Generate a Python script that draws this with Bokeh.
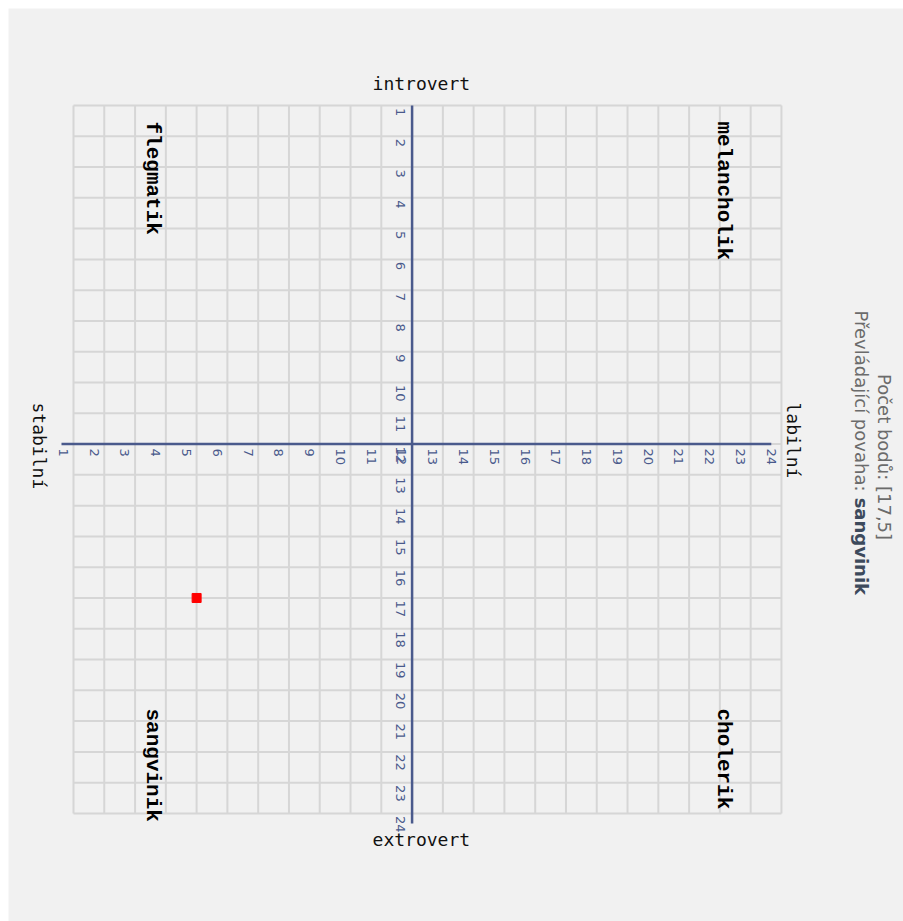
import math
from bokeh.plotting import figure
from bokeh.models import Range1d
from bokeh.core.properties import value
from bokeh.embed import file_html
from bokeh.resources import INLINE

# ---- data ----
ticks = list(range(1, 25))
tick_labels = [str(t) for t in ticks]
x_axis_titles = ["stabilní", "labilní"]
y_axis_titles = ["introvert", "extrovert"]
quadrant_names = ["flegmatik", "melancholik", "sangvinik", "cholerik"]
score = [17, 5]            # [row (introvert→extrovert), column (stabilní→labilní)]
dominant = "sangvinik"

# ---- layout constants (data units = grid cells) ----
W, H = 903, 921
M = 8                      # white margin left / top
S = 30.78                  # px per grid unit
x0 = 1 - 65 / S
y0 = 1 - 97 / S
BG = "#f1f1f1"
GRID = "#d6d6d6"
AXIS = "#4a5a8c"

p = figure(width=W, height=H,
           x_range=Range1d(x0, x0 + (W - M) / S),
           y_range=Range1d(y0 + (H - M) / S, y0),
           output_backend="svg", toolbar_location=None,
           min_border=0, min_border_left=M, min_border_top=M,
           background_fill_color=BG, border_fill_color="white",
           outline_line_color=None)
p.axis.visible = False
p.grid.visible = False

lo, hi = ticks[0], ticks[-1]
# grid
p.segment(x0=ticks, y0=[lo] * len(ticks), x1=ticks, y1=[hi] * len(ticks),
          line_color=GRID, line_width=2)
p.segment(x0=[lo] * len(ticks), y0=ticks, x1=[hi] * len(ticks), y1=ticks,
          line_color=GRID, line_width=2)

mid = ticks[11]
xoff = -0.33
# axes
p.segment(x0=[lo - 0.39], y0=[mid], x1=[hi + xoff], y1=[mid], line_color=AXIS, line_width=2.5)
p.segment(x0=[mid], y0=[lo], x1=[mid], y1=[hi + 0.33], line_color=AXIS, line_width=2.5)

rot = -math.pi / 2
# tick labels horizontal axis
p.text(x=[t + xoff for t in ticks], y=[mid + 0.14] * len(ticks), text=tick_labels,
       angle=rot, text_align="left", text_baseline="middle",
       text_font=value("DejaVu Sans"), text_font_size="13px", text_color=AXIS)
# tick labels vertical axis
p.text(x=[mid - 0.39] * len(ticks), y=[t + 0.08 for t in ticks], text=tick_labels,
       angle=rot, text_align="left", text_baseline="middle",
       text_font=value("DejaVu Sans"), text_font_size="13px", text_color=AXIS)

# axis titles
p.text(x=[mid + 0.3, mid + 0.3], y=[lo - 0.72, hi + 0.85], text=y_axis_titles,
       text_align="center", text_baseline="middle",
       text_font=value("DejaVu Sans Mono"), text_font_size="18px", text_color="#111111")
p.text(x=[lo - 1.12, hi + 0.39], y=[mid - 1.35, mid - 1.35], text=x_axis_titles,
       angle=rot, text_align="left", text_baseline="middle",
       text_font=value("DejaVu Sans Mono"), text_font_size="18px", text_color="#111111")

# quadrant names
p.text(x=[3.57, 22.12, 3.57, 22.12], y=[1.52, 1.52, 20.59, 20.59], text=quadrant_names,
       angle=rot, text_align="left", text_baseline="middle",
       text_font=value("Liberation Mono"), text_font_size="21px", text_font_style="bold",
       text_color="#000000")

# point
p.scatter(x=[score[1]], y=[score[0]], marker="square", size=9,
          fill_color="#ff0000", line_color="#ff0000")

# side info
p.text(x=[27.35], y=[12.42], text=["Počet bodů: [%d,%d]" % (score[0], score[1])],
       angle=rot, text_align="center", text_baseline="middle",
       text_font=value("DejaVu Sans"), text_font_size="18px", text_color="#6b6b6b")
p.text(x=[26.6], y=[7.66], text=["Převládající povaha: "],
       angle=rot, text_align="left", text_baseline="middle",
       text_font=value("DejaVu Sans"), text_font_size="18px", text_color="#6b6b6b")
p.text(x=[26.6], y=[13.74], text=[dominant],
       angle=rot, text_align="left", text_baseline="middle",
       text_font=value("DejaVu Sans"), text_font_size="18px", text_font_style="bold",
       text_color="#3d4a5c")

open("out.html", "w").write(file_html(p, INLINE))
